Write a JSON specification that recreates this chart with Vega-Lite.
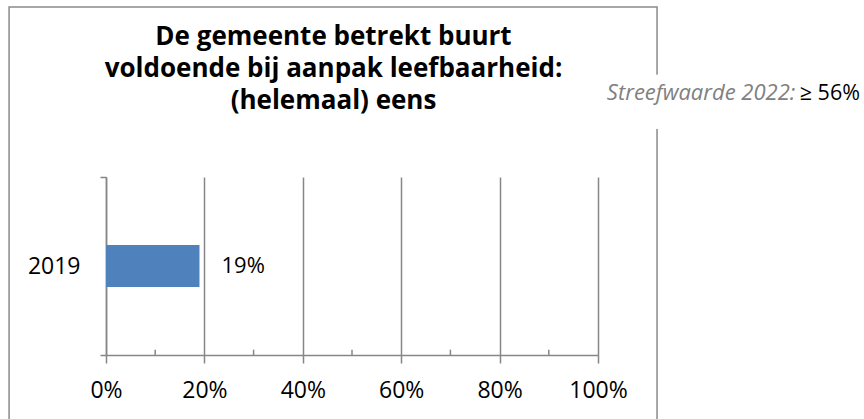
{
  "$schema": "https://vega.github.io/schema/vega-lite/v6.json",
  "width": 492,
  "height": 178,
  "autosize": {"type": "none"},
  "padding": {"left": 106, "top": 177, "right": 266, "bottom": 64},
  "background": "white",
  "config": {
    "view": {"stroke": null},
    "font": "Open Sans",
    "text": {"font": "Open Sans"}
  },
  "data": {"values": [{"jaar": "2019", "waarde": 0.19}]},
  "layer": [
    {
      "layer": [
        {
          "mark": {"type": "bar", "color": "#4F81BD", "height": 42},
          "encoding": {
            "y": {
              "field": "jaar",
              "type": "nominal",
              "title": null,
              "scale": {"paddingInner": 0, "paddingOuter": 0},
              "axis": {
                "domainColor": "#868686",
                "domainWidth": 1.5,
                "tickColor": "#868686",
                "tickWidth": 1.5,
                "tickSize": 6,
                "tickBand": "extent",
                "labelFont": "Open Sans",
                "labelFontSize": 23,
                "labelColor": "#000000",
                "labelPadding": 20
              }
            },
            "x": {
              "field": "waarde",
              "type": "quantitative",
              "title": null,
              "scale": {"domain": [0, 1], "nice": false},
              "axis": {
                "values": [0, 0.2, 0.4, 0.6, 0.8, 1],
                "format": ".0%",
                "grid": true,
                "gridColor": "#868686",
                "gridWidth": 1.5,
                "domainColor": "#868686",
                "domainWidth": 1.5,
                "tickColor": "#868686",
                "tickWidth": 1.5,
                "tickSize": 8,
                "labelFlush": false,
                "labelOverlap": false,
                "labelFont": "Open Sans",
                "labelFontSize": 23,
                "labelColor": "#000000",
                "labelPadding": 16
              }
            }
          }
        },
        {
          "mark": {"type": "text", "align": "left", "baseline": "middle", "dx": 22, "fontSize": 22, "color": "#000000"},
          "encoding": {
            "y": {"field": "jaar", "type": "nominal", "title": null, "scale": {"paddingInner": 0, "paddingOuter": 0}},
            "x": {"field": "waarde", "type": "quantitative", "title": null},
            "text": {"field": "waarde", "type": "quantitative", "format": ".0%"}
          }
        }
      ]
    },
    {
      "layer": [
        {
          "mark": {"type": "rect", "fill": null, "stroke": "#8a8a8a", "strokeWidth": 1.5},
          "encoding": {
            "x": {"datum": -0.197, "type": "quantitative"},
            "x2": {"datum": 1.12},
            "y": {"datum": -0.6, "type": "quantitative", "scale": {"domain": [0, 1], "nice": false, "zero": false}, "axis": null},
            "y2": {"datum": 1.955}
          }
        },
        {
          "mark": {"type": "rect", "fill": "white", "stroke": null},
          "encoding": {
            "x": {"datum": 1.105, "type": "quantitative"},
            "x2": {"datum": 1.135},
            "y": {"datum": 1.27, "type": "quantitative", "scale": {"domain": [0, 1], "nice": false, "zero": false}, "axis": null},
            "y2": {"datum": 1.575}
          }
        },
        {
          "data": {"values": [{"t": 0.1}, {"t": 0.3}, {"t": 0.5}, {"t": 0.7}, {"t": 0.9}]},
          "mark": {"type": "rule", "color": "#868686", "strokeWidth": 1.5},
          "encoding": {
            "x": {"field": "t", "type": "quantitative"},
            "y": {"datum": 0, "type": "quantitative", "scale": {"domain": [0, 1], "nice": false, "zero": false}, "axis": null},
            "y2": {"datum": 0.03}
          }
        },
        {
          "data": {"values": [{"titel": ["De gemeente betrekt buurt", "voldoende bij aanpak leefbaarheid:", "(helemaal) eens"]}]},
          "mark": {"type": "text", "align": "center", "baseline": "top", "fontSize": 26, "fontWeight": "bold", "color": "#000000", "lineHeight": 32},
          "encoding": {
            "x": {"datum": 0.4624, "type": "quantitative"},
            "y": {"datum": 1.86, "type": "quantitative", "scale": {"domain": [0, 1], "nice": false, "zero": false}, "axis": null},
            "text": {"field": "titel"}
          }
        },
        {
          "data": {"values": [{"label": "Streefwaarde 2022:", "doel": "≥ 56%"}]},
          "layer": [
            {
              "mark": {"type": "text", "align": "left", "baseline": "alphabetic", "fontSize": 22, "fontStyle": "italic", "color": "#808080"},
              "encoding": {
                "x": {"datum": 1.018, "type": "quantitative"},
                "y": {"datum": 1.433, "type": "quantitative", "scale": {"domain": [0, 1], "nice": false, "zero": false}, "axis": null},
                "text": {"field": "label"}
              }
            },
            {
              "mark": {"type": "text", "align": "right", "baseline": "alphabetic", "fontSize": 21.5, "color": "#000000"},
              "encoding": {
                "x": {"datum": 1.5325, "type": "quantitative"},
                "y": {"datum": 1.433, "type": "quantitative", "scale": {"domain": [0, 1], "nice": false, "zero": false}, "axis": null},
                "text": {"field": "doel"}
              }
            }
          ]
        }
      ],
      "resolve": {"scale": {"y": "independent"}}
    }
  ],
  "resolve": {"scale": {"y": "independent"}}
}
